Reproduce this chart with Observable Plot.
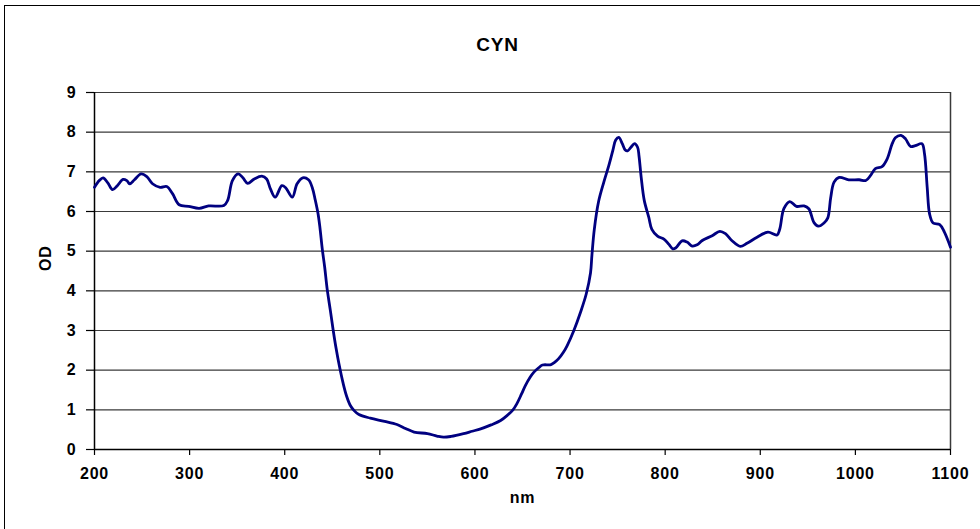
<!DOCTYPE html>
<html>
<head>
<meta charset="utf-8">
<script src="https://cdn.jsdelivr.net/npm/d3@7"></script>
<script src="https://cdn.jsdelivr.net/npm/@observablehq/plot@0.6"></script>
<style>
  html, body { margin: 0; padding: 0; background: #fff; }
  #wrap { position: relative; width: 980px; height: 529px; overflow: hidden; }
  #border { position: absolute; left: 4px; top: 5px; width: 1000px; height: 560px; border: 1.5px solid #000; box-sizing: border-box; pointer-events: none; }
  svg text { font-family: "Liberation Sans", Arial, sans-serif; font-weight: bold; letter-spacing: 0.8px; }
</style>
</head>
<body>
<div id="wrap"><div id="border"></div></div>
<script>
const title = "CYN";
const xLabel = "nm";
const yLabel = "OD";
const xTicks = [200, 300, 400, 500, 600, 700, 800, 900, 1000, 1100];
const yTicks = [0, 1, 2, 3, 4, 5, 6, 7, 8, 9];

const wavelength = [200,205,209,214,219,224,230,234,237,242,249,255,261,269,276,282,289,299,310,320,336,340,345,351,356,361,368,376,381,385,390,397,401,408,413,419,425,429,432,435,437,439.5,442,444.6,448,451,454,457,461.5,465,469,473,478,490,505,518,527,536,550,560,567,575,588,597,606,617,627,634,640,644,649,653,658,662,667,671,680,684,688,693,697,704,711,717,721.5,723,725.5,730,735.5,740.8,745,748,751.3,754.9,758,760.5,764,767.8,771,772.5,774.8,778,782.8,786,792,799,804,808,811,817.8,823,828.4,833.6,839,849.4,857.5,863.4,870,879,886,896.6,908,917.6,920.5,924.8,931,938,946,951,956.5,961,967,971,974,977.6,983,993,1004,1011,1016,1021,1028,1033.5,1038.7,1042,1048,1052.7,1058,1063,1070,1072.7,1075.5,1078,1081.7,1088.7,1093.6,1100];
const od = [6.61,6.78,6.85,6.72,6.55,6.65,6.81,6.78,6.70,6.80,6.95,6.88,6.70,6.61,6.63,6.45,6.17,6.13,6.08,6.14,6.15,6.28,6.78,6.95,6.85,6.71,6.82,6.89,6.82,6.57,6.36,6.65,6.60,6.36,6.70,6.85,6.80,6.60,6.30,5.95,5.60,5.05,4.60,4.05,3.50,3.00,2.55,2.16,1.66,1.35,1.11,0.98,0.88,0.79,0.71,0.63,0.53,0.44,0.40,0.34,0.31,0.33,0.40,0.46,0.52,0.62,0.73,0.86,1.00,1.15,1.40,1.61,1.82,1.95,2.06,2.13,2.14,2.20,2.29,2.45,2.62,3.00,3.46,3.92,4.45,4.90,5.55,6.25,6.74,7.16,7.54,7.80,7.87,7.71,7.55,7.53,7.62,7.71,7.62,7.40,6.86,6.28,5.85,5.55,5.38,5.30,5.17,5.06,5.08,5.26,5.23,5.13,5.16,5.27,5.39,5.50,5.44,5.27,5.12,5.20,5.35,5.48,5.41,5.56,6.07,6.25,6.13,6.14,6.07,5.72,5.63,5.71,5.84,6.34,6.74,6.86,6.80,6.80,6.78,6.91,7.08,7.13,7.33,7.71,7.86,7.92,7.83,7.64,7.66,7.71,7.45,6.61,5.94,5.71,5.67,5.48,5.10];

const data = wavelength.map((w, i) => ({nm: w, od: od[i]}));

const chart = Plot.plot({
  width: 980,
  height: 529,
  marginLeft: 94,
  marginRight: 30,
  marginTop: 92,
  marginBottom: 80,
  style: {fontFamily: "'Liberation Sans', Arial, sans-serif", fontSize: "16px", fontWeight: "bold", color: "#000", background: "transparent", overflow: "visible"},
  x: {domain: [200, 1100]},
  y: {domain: [0, 9]},
  marks: [
    Plot.gridY(yTicks, {stroke: "#3a3a3a", strokeOpacity: 1, strokeWidth: 1.2}),
    Plot.ruleX([1100], {y1: 0, y2: 9, stroke: "#3a3a3a", strokeWidth: 1.5}),
    Plot.axisY(yTicks, {tickSize: 8, tickPadding: 10, label: null, stroke: "#000", strokeWidth: 1.2, fill: "#000", tickFormat: d => String(d)}),
    Plot.axisX(xTicks, {tickSize: 6, tickPadding: 12, label: null, stroke: "#000", strokeWidth: 1.2, fill: "#000", tickFormat: d => String(d)}),
    Plot.ruleY([0], {stroke: "#000", strokeWidth: 1.5}),
    Plot.ruleX([200], {y1: 0, y2: 9, stroke: "#000", strokeWidth: 1.5}),
    Plot.line(data, {x: "nm", y: "od", stroke: "#000080", strokeWidth: 2.8, curve: "catmull-rom"}),
    Plot.text([title], {frameAnchor: "top", dy: -55, dx: -25, fontSize: 19, fontWeight: "bold", fill: "#000"}),
    Plot.text([xLabel], {frameAnchor: "bottom", dy: 53, fontSize: 16, fontWeight: "bold", fill: "#000"}),
    Plot.text([yLabel], {frameAnchor: "left", dx: -49, rotate: -90, fontSize: 16, fontWeight: "bold", fill: "#000"})
  ]
});
document.getElementById("wrap").prepend(chart);
</script>
</body>
</html>
